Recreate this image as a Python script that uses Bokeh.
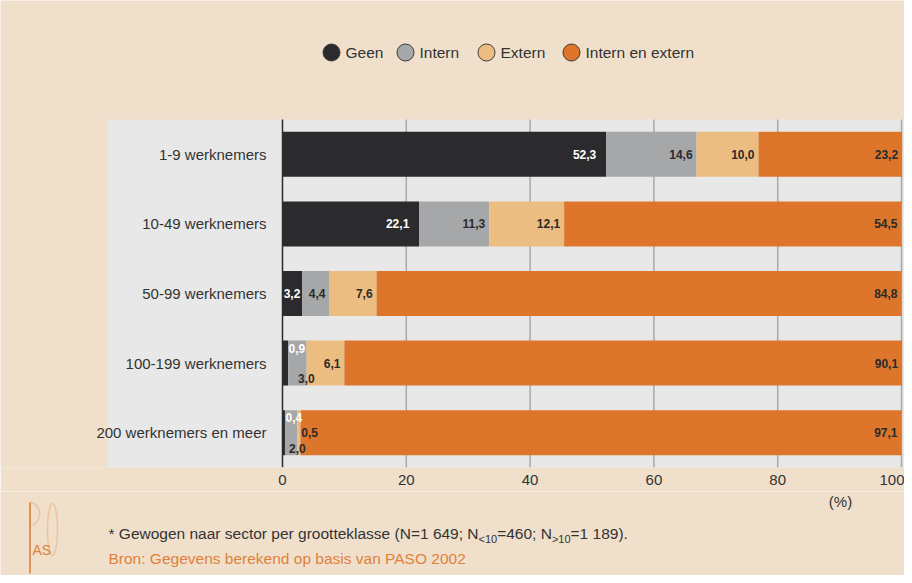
import math
from bokeh.plotting import figure
from bokeh.layouts import column
from bokeh.models import (ColumnDataSource, Range1d, FixedTicker, Label,
                          PolyAnnotation, BoxAnnotation)
from bokeh.core.properties import value
from bokeh.embed import file_html
from bokeh.resources import INLINE

# ---------------- data ----------------
categories = ["1-9 werknemers", "10-49 werknemers", "50-99 werknemers",
              "100-199 werknemers", "200 werknemers en meer"]
series = ["Geen", "Intern", "Extern", "Intern en extern"]
geen = [52.3, 22.1, 3.2, 0.9, 0.4]
intern = [14.6, 11.3, 4.4, 3.0, 2.0]
extern = [10.0, 12.1, 7.6, 6.1, 0.5]
intern_extern = [23.2, 54.5, 84.8, 90.1, 97.1]
x_ticks = [0, 20, 40, 60, 80, 100]
footnote_parts = ["* Gewogen naar sector per grootteklasse (N=1 649; N", "<10", "=460; N", ">10", "=1 189)."]
source_text = "Bron: Gegevens berekend op basis van PASO 2002"
unit_text = "(%)"

# ---------------- style ----------------
FONT = "Liberation Sans"
BG = "#F0E0CB"
PANEL = "#E8E8E8"
TXT = "#333333"
ORANGE_TXT = "#E0803A"
colors = ["#2B2B2D", "#A6A7A9", "#ECBD80", "#DD762A"]
legend_px = [339, 413, 494, 579]   # page x of legend markers
LEGEND_PY = 60

W = 904
PX0, PX100 = 290, 909          # page x of 0 % and 100 %
ROW = 69.6                     # px per category row
PANEL_L, PANEL_T, PANEL_B = 115, 127, 475
MAIN_BOTTOM = 499              # page y where the main figure ends
K = (PX100 - PX0) / 100.0
X0, X1 = (8 - PX0) / K, (912 - PX0) / K
Y0 = -0.5
Y1 = Y0 + (PANEL_B - 8) / ROW

def dx(px):
    return (px - PX0) / K

def dy(py):
    return Y0 + (PANEL_B - py) / ROW

p = figure(width=W, height=MAIN_BOTTOM - 8, output_backend="svg", toolbar_location=None,
           x_range=Range1d(X0, X1), y_range=Range1d(Y0, Y1),
           y_axis_location=None,
           min_border_left=0, min_border_right=0, min_border_top=0,
           min_border_bottom=MAIN_BOTTOM - PANEL_B,
           background_fill_color=BG, border_fill_color=BG, outline_line_color=None)

p.xaxis.ticker = FixedTicker(ticks=x_ticks)
p.xaxis.axis_line_color = None
p.xaxis.major_tick_line_color = None
p.xaxis.minor_tick_line_color = None
p.xaxis.major_tick_out = 0
p.xaxis.major_tick_in = 0
p.xaxis.major_label_standoff = 7
p.xaxis.major_label_text_font = FONT
p.xaxis.major_label_text_font_size = "15px"
p.xaxis.major_label_text_color = TXT
p.xgrid.grid_line_color = None
p.ygrid.grid_line_color = None

# grey plot panel
p.add_layout(BoxAnnotation(left=dx(PANEL_L), right=X1, bottom=Y0, top=dy(PANEL_T),
                           fill_color=PANEL, fill_alpha=1, line_color=None, level="underlay"))

# vertical grid lines at the ticks
grid_x = [t for t in x_ticks if t > 0]
p.segment(x0=grid_x, y0=[Y0] * len(grid_x), x1=grid_x, y1=[dy(PANEL_T)] * len(grid_x),
          line_color="#A9A9A9", line_width=1.5)

ys = list(range(len(categories) - 1, -1, -1))
data = dict(y=ys, cat=categories)
for name, vals in zip(series, [geen, intern, extern, intern_extern]):
    data[name] = vals
src = ColumnDataSource(data)
p.hbar_stack(series, y="y", height=0.647, color=colors, line_color=None, source=src)

# zero axis line
p.segment(x0=[x_ticks[0]], y0=[Y0], x1=[x_ticks[0]], y1=[dy(PANEL_T)],
          line_color="#2B2B2B", line_width=1.5)

# category labels
p.text(x=dx(274), y="y", text="cat", source=src, text_align="right", text_baseline="middle",
       text_font=value(FONT), text_font_size="15px", text_color=TXT)

# value labels inside bars
special = {  # (row, series) -> (x offset px from segment start, y offset px)
    (3, 0): (6, -15), (3, 1): (10, 15),
    (4, 0): (3, -15), (4, 1): (4, 16), (4, 2): (4, 0),
}
R = dict(x=[], y=[], text=[], color=[], xo=[], yo=[])
L = dict(x=[], y=[], text=[], color=[], xo=[], yo=[])
all_vals = [geen, intern, extern, intern_extern]
for i in range(len(categories)):
    cum = 0.0
    for s, vals in enumerate(all_vals):
        v = vals[i]
        start, end = cum, cum + v
        cum = end
        txt = f"{v:.1f}".replace(".", ",")
        col = "white" if s == 0 else "#2B2B2B"
        if (i, s) in special:
            xo, yo = special[(i, s)]
            tgt = L
            xpos = start
        else:
            tgt = R
            xpos = end
            yo = 0
            if s == 0:
                xo = -10 if v > 10 else -2
            else:
                xo = -4
        tgt["x"].append(xpos); tgt["y"].append(ys[i]); tgt["text"].append(txt)
        tgt["color"].append(col); tgt["xo"].append(xo); tgt["yo"].append(yo)

for d, align in ((R, "right"), (L, "left")):
    p.text(x="x", y="y", text="text", source=ColumnDataSource(d), text_color="color",
           x_offset="xo", y_offset="yo", text_align=align, text_baseline="middle",
           text_font=value(FONT), text_font_size="12px", text_font_style="bold")

# legend: circle markers + labels
leg = ColumnDataSource(dict(x=[dx(v) for v in legend_px], y=[dy(LEGEND_PY)] * len(series),
                            name=series, color=colors))
p.scatter(x="x", y="y", source=leg, marker="circle", size=17, fill_color="color",
          line_color="#3A3A3A", line_width=1)
p.text(x="x", y="y", text="name", source=leg, x_offset=14, text_align="left",
       text_baseline="middle", text_font=value(FONT), text_font_size="15.5px", text_color=TXT)

# ---------------- footer figure (data coords == page px) ----------------
f = figure(width=W, height=583 - MAIN_BOTTOM, output_backend="svg", toolbar_location=None,
           x_range=Range1d(8, 912), y_range=Range1d(583, MAIN_BOTTOM),
           x_axis_location=None, y_axis_location=None,
           min_border_left=0, min_border_right=0, min_border_top=0, min_border_bottom=0,
           background_fill_color=BG, border_fill_color=BG, outline_line_color=None)
f.xgrid.grid_line_color = None
f.ygrid.grid_line_color = None

ARIAL = {' ': 278, '*': 389, 'G': 778, 'e': 556, 'w': 722, 'o': 556, 'g': 556, 'n': 556,
         'a': 556, 'r': 333, 's': 500, 'c': 500, 't': 278, 'p': 556, 'k': 500, 'l': 222,
         '(': 333, 'N': 722, '=': 584, '<': 584, '>': 584, ')': 333, '.': 278, ';': 278}

def tw(s, size):
    return sum(ARIAL.get(ch, 556) for ch in s) / 1000 * size

def lab(text, px, py, size=15, color=TXT, align="left"):
    f.add_layout(Label(x=px, y=py, text=text, text_font=FONT, text_font_size=f"{size}px",
                       text_color=color, text_align=align, text_baseline="middle"))

lab(unit_text, 848, 509, size=15, align="center")
MAIN, SUB = 15.5, 11
cx = 116
for k, part in enumerate(footnote_parts):
    if k % 2 == 1:
        lab(part, cx, 546, size=SUB)
        cx += tw(part, SUB)
    else:
        lab(part, cx, 541, size=MAIN)
        cx += tw(part, MAIN)
lab(source_text, 116, 566, size=MAIN, color=ORANGE_TXT)

# PASO logo
LOGO = "#E0803A"
stem_x = 37.5
f.add_layout(PolyAnnotation(xs=[stem_x - 0.8, stem_x + 0.8, stem_x + 0.8, stem_x - 0.8],
                            ys=[510, 510, 581, 581], fill_color=LOGO, fill_alpha=1, line_color=None))
n = 24
bx = [stem_x + 9.5 * math.sin(math.pi * k / n) for k in range(n + 1)]
by = [510 + 11.5 * (1 - math.cos(math.pi * k / n)) for k in range(n + 1)]
f.add_layout(PolyAnnotation(xs=bx, ys=by, fill_alpha=0, line_color=LOGO, line_width=1.5))
m = 40
ox = [60 + 5 * math.cos(2 * math.pi * k / m) for k in range(m)]
oy = [537 + 26 * math.sin(2 * math.pi * k / m) for k in range(m)]
f.add_layout(PolyAnnotation(xs=ox, ys=oy, fill_alpha=0, line_color=LOGO, line_width=1.5))
lab("AS", 40, 557, size=14, color=LOGO)

layout = column(p, f, spacing=0)
open("out.html", "w").write(file_html(layout, INLINE))
